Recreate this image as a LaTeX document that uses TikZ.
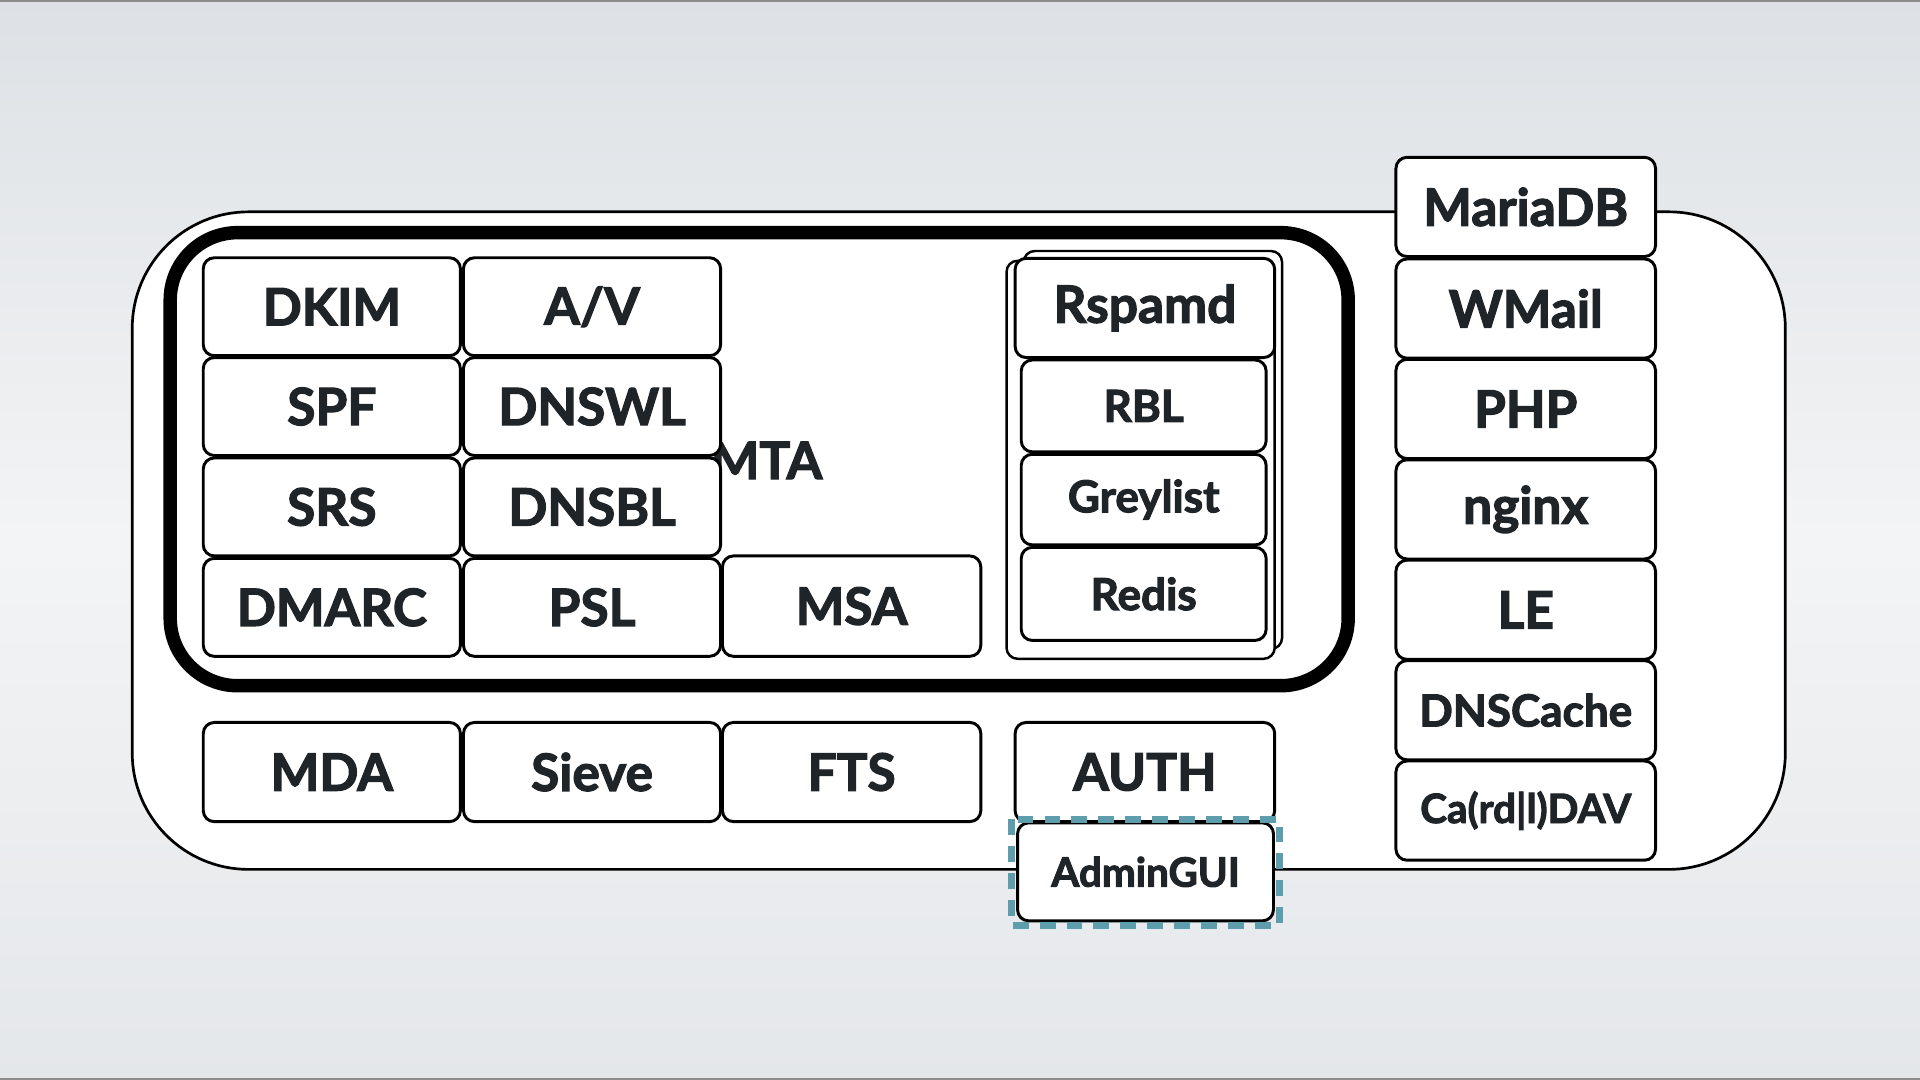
\documentclass[tikz,border=0pt]{standalone}
\usepackage{fontspec}
\setmainfont{Lato}[BoldFeatures={FakeBold=2.4}]
\definecolor{ink}{HTML}{1F2429}
\definecolor{bgtop}{HTML}{DDE1E5}
\definecolor{bgmid}{HTML}{F3F4F5}
\definecolor{bgbot}{HTML}{E4E7EA}
\definecolor{teal}{HTML}{5E9DAB}
\tikzset{
  lbl/.style={text=ink, font=\bfseries\fontsize{42}{42}\selectfont},
  box/.style={lbl, draw=black, line width=2.4pt, rounded corners=9pt, fill=white,
    minimum width=210pt, minimum height=80pt, inner sep=0pt},
  mid/.style={font=\bfseries\fontsize{36}{36}\selectfont},
  small/.style={font=\bfseries\fontsize{33}{33}\selectfont},
  frame/.style={draw=black, line width=2pt, rounded corners=9pt, fill=white},
}
\begin{document}
\begin{tikzpicture}[x=1pt,y=-1pt]
\useasboundingbox (0,0) rectangle (1568,882);
\shade[top color=bgtop, bottom color=bgbot, middle color=bgmid] (0,0) rectangle (1568,882);
\draw[line width=1.5pt, black!45] (0,1) -- (1568,1);
\draw[line width=1.5pt, black!45] (0,881) -- (1568,881);
% outer container
\draw[line width=2.2pt, fill=white, rounded corners=95pt] (108,173) rectangle (1458,710);
% MTA thick container
\draw[line width=11pt, rounded corners=55pt] (139,190) rectangle (1101,560);
\node[lbl] (mta) at (626,376) {MTA};
% grid
\node[box] (dkim) at (271,250.5) {DKIM};
\node[box] (av) at (483.5,250.5) {A/V};
\node[box] (spf) at (271,332) {SPF};
\node[box] (dnswl) at (483.5,332) {DNSWL};
\node[box] (srs) at (271,414) {SRS};
\node[box] (dnsbl) at (483.5,414) {DNSBL};
\node[box] (dmarc) at (271,496) {DMARC};
\node[box] (psl) at (483.5,496) {PSL};
\node[box, minimum width=211pt, minimum height=82pt] (msa) at (695.5,495) {MSA};
% rspamd stack
\draw[frame] (836,205) rectangle (1047,530);
\draw[frame] (822,213) rectangle (1041,538);
\node[box, minimum width=212pt, minimum height=81pt] (rspamd) at (935,251.5) {Rspamd};
\node[box, mid, minimum width=200pt, minimum height=75pt] (rbl) at (934,331.5) {RBL};
\node[box, mid, minimum width=200pt, minimum height=74pt] (grey) at (934,408) {Greylist};
\node[box, mid, minimum width=200pt, minimum height=76pt] (redis) at (934,485) {Redis};
% bottom row
\node[box, minimum height=81pt] (mda) at (271,630.5) {MDA};
\node[box, minimum height=81pt] (sieve) at (483.5,630.5) {Sieve};
\node[box, minimum width=211pt, minimum height=81pt] (fts) at (695.5,630.5) {FTS};
\node[box, minimum width=212pt, minimum height=81pt] (auth) at (935,630.5) {AUTH};
\node[box, small, minimum width=209pt, minimum height=80pt] (admin) at (935.5,712) {AdminGUI};
\draw[teal, line width=5.5pt, dash pattern=on 13pt off 9pt] (826,669) rectangle (1045,756);
% right column
\node[box, minimum width=212pt, minimum height=81pt] (maria) at (1246,169) {MariaDB};
\node[box, minimum width=212pt, minimum height=81pt] (wmail) at (1246,252) {WMail};
\node[box, minimum width=212pt, minimum height=81pt] (php) at (1246,334) {PHP};
\node[box, minimum width=212pt, minimum height=81pt] (nginx) at (1246,416) {nginx};
\node[box, minimum width=212pt, minimum height=81pt] (le) at (1246,498) {LE};
\node[box, mid, minimum width=212pt, minimum height=81pt] (dnsc) at (1246,580) {DNSCache};
\node[box, small, minimum width=212pt, minimum height=81pt] (dav) at (1246,662) {Ca(rd|l)DAV};
\end{tikzpicture}
\end{document}
